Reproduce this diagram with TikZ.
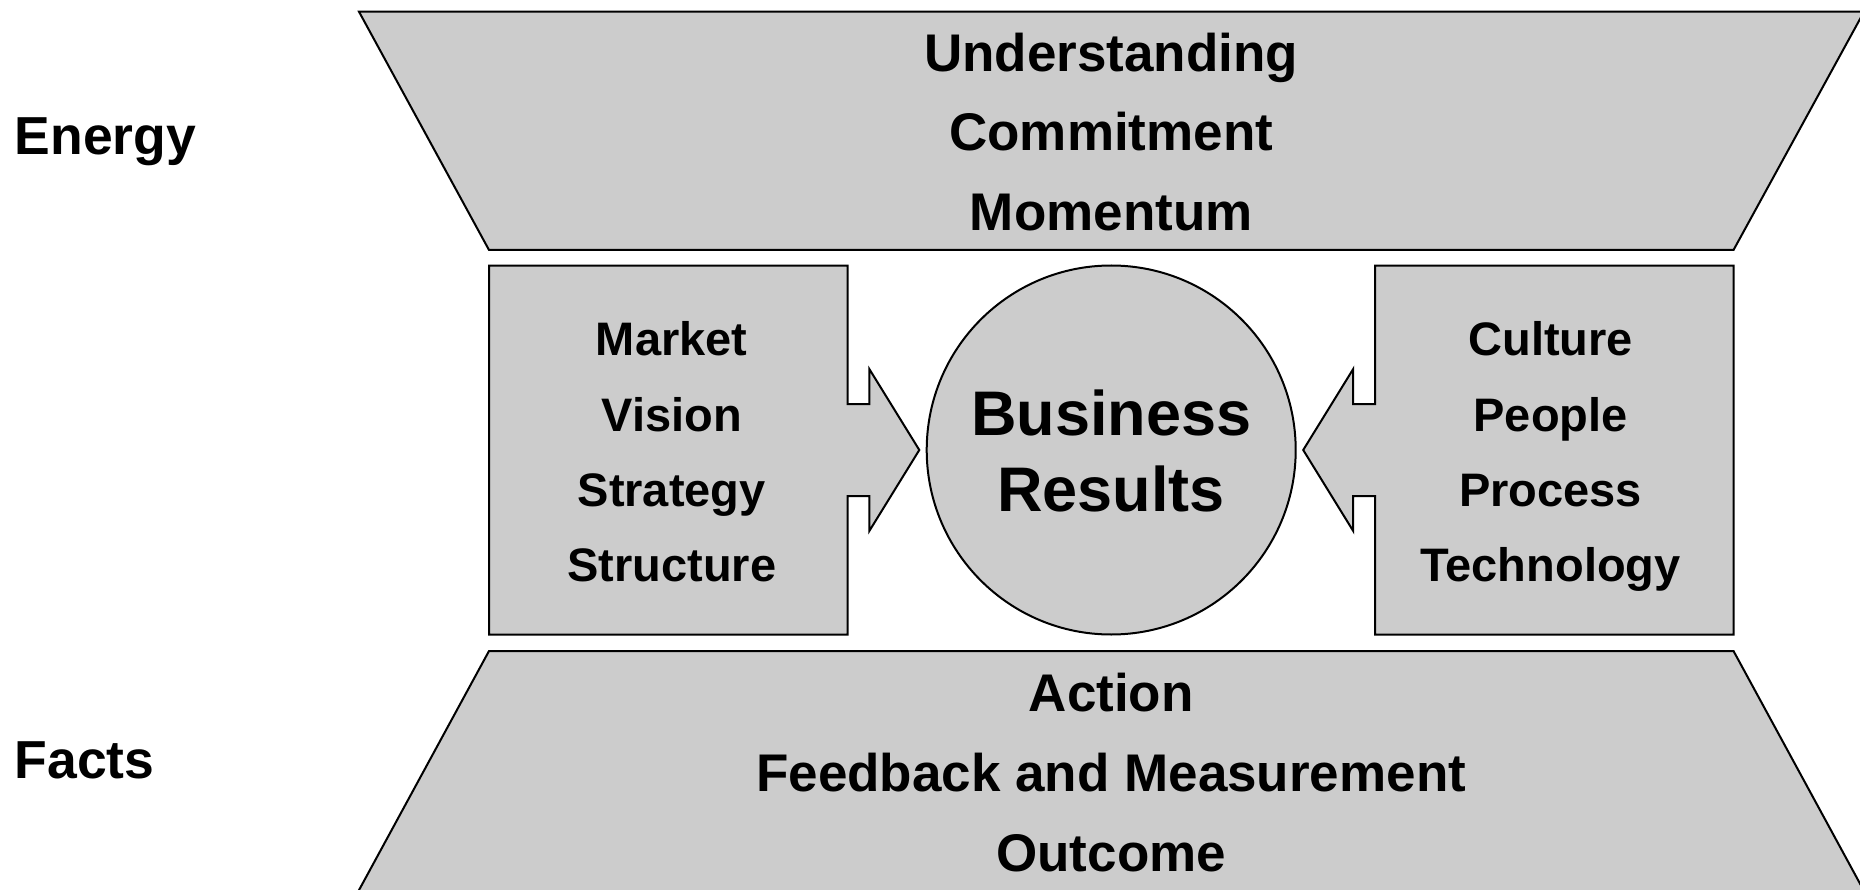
\documentclass[tikz,border=0pt]{standalone}
\usepackage{fontspec}
\setmainfont{Liberation Sans}
\begin{document}
\begin{tikzpicture}[x=1pt,y=-1pt,
  shapebox/.style={draw=black,line width=2pt,fill=black!20,line join=miter},
  txt/.style={inner sep=0pt,anchor=base,font=\bfseries\fontsize{53}{60}\selectfont},
  sidetxt/.style={inner sep=0pt,anchor=base west,font=\bfseries\fontsize{53.5}{60}\selectfont},
  boxtxt/.style={inner sep=0pt,anchor=base,font=\bfseries\fontsize{47}{54}\selectfont},
  bigtxt/.style={inner sep=0pt,anchor=base,font=\bfseries\fontsize{63}{70}\selectfont}]
\useasboundingbox (0,0) rectangle (1860,890);
% top trapezoid
\draw[shapebox] (359,11.7) -- (1864,11.7) -- (1733.5,250) -- (489,250) -- cycle;
% bottom trapezoid
\draw[shapebox] (489,651) -- (1733.5,651) -- (1864,891) -- (358.5,891) -- cycle;
% left box with arrow
\draw[shapebox] (489,265.7) -- (847.5,265.7) -- (847.5,404) -- (869.3,404) -- (869.3,369)
  -- (919.3,450) -- (869.3,531) -- (869.3,496) -- (847.5,496) -- (847.5,634.5) -- (489,634.5) -- cycle;
% right box with arrow
\draw[shapebox] (1733.5,265.7) -- (1375,265.7) -- (1375,404) -- (1353.2,404) -- (1353.2,369)
  -- (1303.2,450) -- (1353.2,531) -- (1353.2,496) -- (1375,496) -- (1375,634.5) -- (1733.5,634.5) -- cycle;
% circle
\node[shapebox,circle,minimum size=369pt,inner sep=0pt] (res) at (1111.2,450) {};
% side labels
\node[sidetxt] (energy) at (14.5,154.5) {Energy};
\node[sidetxt] (facts) at (14.5,778.3) {Facts};
% top texts
\node[txt] (u1) at (1111.2,71.7) {Understanding};
\node[txt] (u2) at (1111.2,151) {Commitment};
\node[txt] (u3) at (1111.2,230.7) {Momentum};
% bottom texts
\node[txt] (b1) at (1111.2,711.7) {Action};
\node[txt] (b2) at (1111.2,791.7) {Feedback and Measurement};
\node[txt] (b3) at (1111.2,871.7) {Outcome};
% left column
\node[boxtxt] (l1) at (671.7,355.7) {Market};
\node[boxtxt] (l2) at (671.7,431.7) {Vision};
\node[boxtxt] (l3) at (671.7,506.7) {Strategy};
\node[boxtxt] (l4) at (671.7,581.7) {Structure};
% right column
\node[boxtxt] (r1) at (1550.6,355.7) {Culture};
\node[boxtxt] (r2) at (1550.6,431.7) {People};
\node[boxtxt] (r3) at (1550.6,506.7) {Process};
\node[boxtxt] (r4) at (1550.6,581.7) {Technology};
% centre
\node[bigtxt] (c1) at (1111.2,435) {Business};
\node[bigtxt] (c2) at (1111.2,511.7) {Results};
\end{tikzpicture}
\end{document}
